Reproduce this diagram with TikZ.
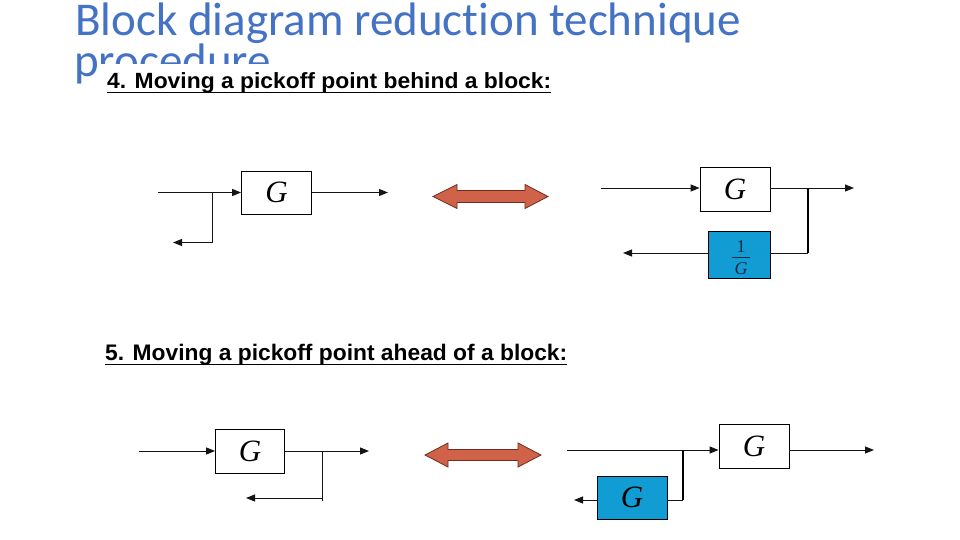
\documentclass[tikz,border=0pt]{standalone}
\usepackage{fontspec}
\usepackage{graphicx}
\setmainfont{Liberation Serif}
\newfontfamily\titlefont[Ligatures=NoCommon]{Carlito}
\newfontfamily\headfont{Liberation Sans}
\usetikzlibrary{arrows.meta}
\definecolor{titleblue}{RGB}{68,114,196}
\definecolor{boxblue}{RGB}{18,156,212}
\definecolor{arrfill}{RGB}{208,98,74}
\definecolor{arredge}{RGB}{110,45,30}
\definecolor{wire}{RGB}{20,20,20}
\definecolor{fractext}{RGB}{20,40,70}
\tikzset{
  blk/.style={draw=black, line width=0.8pt, fill=white, inner sep=0pt, font=\fontsize{31}{31}\selectfont\itshape},
  bblk/.style={blk, fill=boxblue},
  sig/.style={draw=wire, line width=1pt, -{Triangle[length=9pt,width=7pt]}},
  plain/.style={draw=wire, line width=1pt},
  thick wire/.style={draw=black, line width=2pt},
  dbl/.style={draw=arredge, line width=0.8pt, fill=arrfill, line join=miter},
  head/.style={anchor=base west, inner sep=0pt, font=\headfont\bfseries},
}
\begin{document}
\begin{tikzpicture}[x=1pt,y=-1pt]
\useasboundingbox (0,0) rectangle (960,540);
\fill[white] (0,0) rectangle (960,540);
% title
\node[anchor=base west, inner sep=0pt, text=titleblue, font=\titlefont\fontsize{47}{47}\selectfont] (title1) at (75,36) {Block diagram reduction technique};
\node[anchor=base west, inner sep=0pt, text=titleblue, font=\titlefont\fontsize{47}{47}\selectfont] (title2) at (74,77) {procedure};
\fill[white] (97,64) rectangle (570,100);
% headings
\node[head] (h4) at (107,89) {\resizebox{444pt}{\height}{\fontsize{22}{22}\selectfont 4. Moving a pickoff point behind a block:}};
\draw[black, line width=1.4pt] (107,92.5) -- (551,92.5);
\node[head] (h5) at (105,360) {\resizebox{462pt}{\height}{\fontsize{22.5}{22.5}\selectfont 5. Moving a pickoff point ahead of a block:}};
\draw[black, line width=1.4pt] (105,364.5) -- (567,364.5);

% ---- Diagram 1 (top left)
\node[blk, minimum width=70pt, minimum height=43pt] (g1) at (276.5,192.5) {G};
\coordinate (in1) at (158,192.5);
\coordinate (p1) at (212,192.5);
\coordinate (c1) at (212,242.5);
\coordinate (o1b) at (173,242.5);
\coordinate (out1) at (388,192.5);
\draw[sig] (in1) -- (g1.west);
\draw[sig] (p1) -- (c1) -- (o1b);
\draw[sig] (g1.east) -- (out1);

% ---- Double arrow 1
\draw[dbl] (433,196.5) -- (457,184.5) -- (457,190.5) -- (525,190.5) -- (525,184.5) -- (548,196.5) -- (525,208.5) -- (525,202.5) -- (457,202.5) -- (457,208.5) -- cycle;

% ---- Diagram 2 (top right)
\node[blk, minimum width=70pt, minimum height=44pt] (g2) at (735,189) {G};
\node[bblk, minimum width=62pt, minimum height=47pt] (ig2) at (739,254.5) {};
\node[inner sep=0pt, text=fractext, font=\fontsize{18}{18}\selectfont] (frac2) at (741,257.5)
  {\shortstack{1\\[1pt]\rule{18pt}{0.8pt}\\[2pt]\textit{G}}};
\coordinate (in2) at (601,188);
\coordinate (p2) at (808,188);
\coordinate (c2) at (808,253);
\coordinate (out2) at (854,188);
\coordinate (o2b) at (623,253);
\draw[sig] (in2) -- (g2.west |- in2);
\draw[sig] (g2.east |- out2) -- (out2);
\draw[thick wire] (p2) -- (c2);
\draw[plain] (c2) -- (ig2.east |- c2);
\draw[sig] (ig2.west |- c2) -- (o2b);

% ---- Diagram 3 (bottom left)
\node[blk, minimum width=69pt, minimum height=44pt] (g3) at (250,451) {G};
\coordinate (in3) at (139,451);
\coordinate (p3) at (322,451);
\coordinate (c3) at (322,499);
\coordinate (c3b) at (322,501);
\coordinate (o3b) at (246,498);
\coordinate (out3) at (369,451);
\draw[sig] (in3) -- (g3.west);
\draw[sig] (g3.east) -- (out3);
\draw[plain] (p3) -- (c3b);
\draw[sig] (c3 |- o3b) -- (o3b);

% ---- Double arrow 2
\draw[dbl] (425,455) -- (448,443) -- (448,449.5) -- (518,449.5) -- (518,443) -- (541,455) -- (518,467) -- (518,460.5) -- (448,460.5) -- (448,467) -- cycle;

% ---- Diagram 4 (bottom right)
\node[blk, minimum width=70pt, minimum height=44pt] (g4) at (754,446) {G};
\node[bblk, minimum width=70pt, minimum height=43pt] (bg4) at (632,497.5) {G};
\coordinate (in4) at (567,450);
\coordinate (p4) at (683,450);
\coordinate (c4) at (683,500);
\coordinate (out4) at (874,450);
\coordinate (o4b) at (574,500);
\draw[sig] (in4) -- (g4.west |- in4);
\draw[sig] (g4.east |- out4) -- (out4);
\draw[thick wire] (p4) -- (c4);
\draw[plain] (c4) -- (bg4.east |- c4);
\draw[sig] (bg4.west |- c4) -- (o4b);
\end{tikzpicture}
\end{document}
